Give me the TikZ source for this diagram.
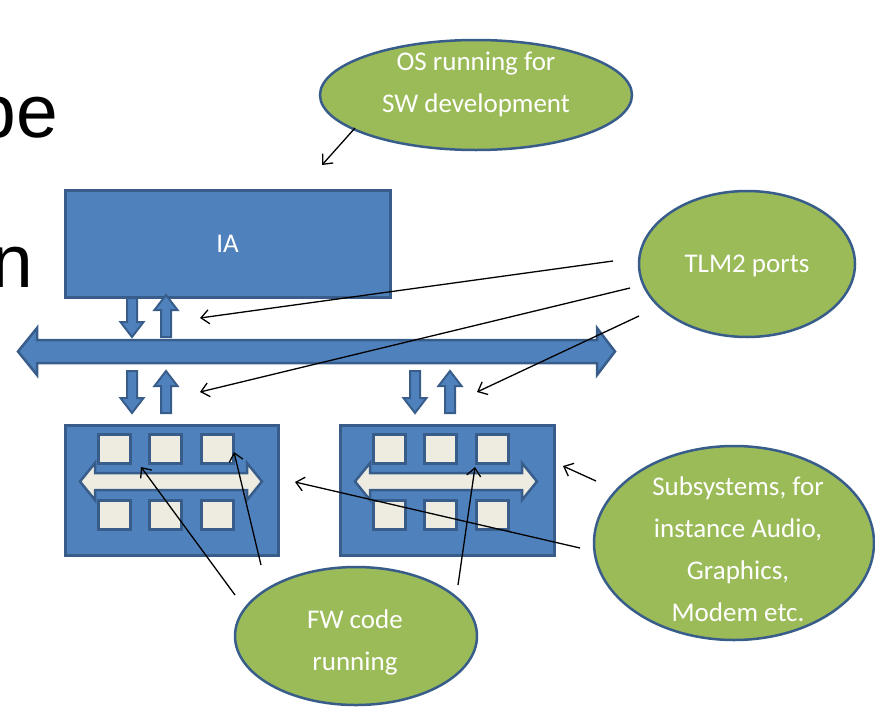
\documentclass[tikz,border=0pt]{standalone}
\usepackage{fontspec}
\setmainfont{Carlito}
\newfontfamily\slidefont{Liberation Sans}
\usetikzlibrary{shapes.geometric,arrows.meta}
\definecolor{boxblue}{HTML}{4F81BD}
\definecolor{edgeblue}{HTML}{385D8A}
\definecolor{cellfill}{HTML}{EEECE1}
\definecolor{notegreen}{HTML}{9BBB59}
% vertical link arrows between the blocks and the bus
\newcommand\downlink[3]{%
  \draw[link] (#1-5,#2) -- (#1+5,#2) -- (#1+5,#3-15) -- (#1+11.5,#3-15)
    -- (#1,#3) -- (#1-11.5,#3-15) -- (#1-5,#3-15) -- cycle;}
\newcommand\uplink[3]{%
  \draw[link] (#1-5,#3) -- (#1+5,#3) -- (#1+5,#2+15) -- (#1+11.5,#2+15)
    -- (#1,#2) -- (#1-11.5,#2+15) -- (#1-5,#2+15) -- cycle;}
% internal bus of a subsystem: left tip x, right tip x
\newcommand\innerbus[2]{%
  \draw[innerbus] (#1,481.5) -- (#1+15,463) -- (#1+15,473) -- (#2-15,473)
    -- (#2-15,463) -- (#2,481.5) -- (#2-15,500) -- (#2-15,490) -- (#1+15,490)
    -- (#1+15,500) -- cycle;}
\begin{document}
\begin{tikzpicture}[x=1pt,y=-1pt,
  block/.style={fill=boxblue,draw=edgeblue,line width=3pt,inner sep=0pt,
    anchor=north west,text=white,font=\fontsize{27}{32}\selectfont},
  cell/.style={fill=cellfill,draw=edgeblue,line width=3pt,inner sep=0pt,
    minimum width=32pt,minimum height=29pt},
  link/.style={fill=boxblue,draw=edgeblue,line width=2pt,line join=miter},
  innerbus/.style={fill=cellfill,draw=edgeblue,line width=2.5pt,line join=miter},
  note/.style={ellipse,fill=notegreen,draw=edgeblue,line width=2.5pt,inner sep=0pt},
  notetext/.style={text=white,font=\fontsize{27}{42}\selectfont,align=center,inner sep=0pt},
  pointer/.style={-{Straight Barb[length=8pt,width=14pt]},line width=1.3pt},
]
\useasboundingbox (0,0) rectangle (875,707);
\clip (0,0) rectangle (875,707);

% slide text cut off at the left edge
\node[font=\slidefont\fontsize{75}{90}\selectfont,anchor=base east,inner sep=0pt] (wordbe) at (58,137) {be};
\node[font=\slidefont\fontsize{75}{90}\selectfont,anchor=base east,inner sep=0pt] (wordn) at (33,287) {n};

% system bus
\draw[fill=boxblue,draw=edgeblue,line width=2.5pt,line join=miter]
  (18,351.5) -- (37,328) -- (37,340) -- (597,340) -- (597,328) -- (615,351.5)
  -- (597,375) -- (597,363) -- (37,363) -- (37,375) -- cycle;

% host block
\node[block,minimum width=325pt,minimum height=107pt] (ia) at (63.5,188.5) {IA};

% link arrows
\downlink{132}{298}{337}
\uplink{166}{295}{337}
\downlink{132}{371}{413}
\uplink{166}{371}{413}
\downlink{415}{371}{413}
\uplink{450}{371}{413}

% subsystem blocks
\node[block,minimum width=213pt,minimum height=130pt] (ssl) at (63.5,423.5) {};
\node[block,minimum width=214pt,minimum height=130pt] (ssr) at (338.5,423.5) {};

\foreach \i/\x in {1/114.5,2/165,3/217} {
  \node[cell] (cl\i) at (\x,449) {};
  \node[cell] (clb\i) at (\x,515) {};
  \node[cell] (cr\i) at (\x+275,449) {};
  \node[cell] (crb\i) at (\x+275,515) {};
}
\innerbus{80}{262}
\innerbus{355}{537}

% callouts
\node[note,minimum width=312pt,minimum height=110pt] (os) at (476,95) {};
\node[notetext] (os-label) at (476,84) {OS running for\\SW development};
\node[note,minimum width=216pt,minimum height=146pt] (tlm) at (747,264) {};
\node[notetext] (tlm-label) at (747,266) {TLM2 ports};
\node[note,minimum width=280pt,minimum height=194pt] (sub) at (734,543) {};
\node[notetext] (sub-label) at (738,549) {Subsystems, for\\instance Audio,\\Graphics,\\Modem etc.};
\node[note,minimum width=242pt,minimum height=138pt] (fw) at (356,636) {};
\node[notetext] (fw-label) at (355,642) {FW code\\running};

% pointer end points
\coordinate (os-from) at (355,128);   \coordinate (os-to) at (322,165);
\coordinate (tlm-a) at (613,261);     \coordinate (ia-port) at (200,318);
\coordinate (tlm-b) at (630,288);     \coordinate (ssl-port) at (200,392);
\coordinate (tlm-c) at (639,316);     \coordinate (ssr-port) at (477,392);
\coordinate (sub-a) at (596,481);     \coordinate (ssr-edge) at (563,466);
\coordinate (sub-b) at (580,548);     \coordinate (ssl-edge) at (295,482);
\coordinate (fw-a) at (235,595);      \coordinate (fw-b) at (261,565);
\coordinate (fw-c) at (458,585);
\coordinate (cl1-tip) at (141,467);   \coordinate (cl3-tip) at (234,452);
\coordinate (cr3-tip) at (475,467);

\draw[pointer] (os-from) -- (os-to);
\draw[pointer] (tlm-a) -- (ia-port);
\draw[pointer] (tlm-b) -- (ssl-port);
\draw[pointer] (tlm-c) -- (ssr-port);
\draw[pointer] (sub-a) -- (ssr-edge);
\draw[pointer] (sub-b) -- (ssl-edge);
\draw[pointer] (fw-a) -- (cl1-tip);
\draw[pointer] (fw-b) -- (cl3-tip);
\draw[pointer] (fw-c) -- (cr3-tip);
\end{tikzpicture}
\end{document}
